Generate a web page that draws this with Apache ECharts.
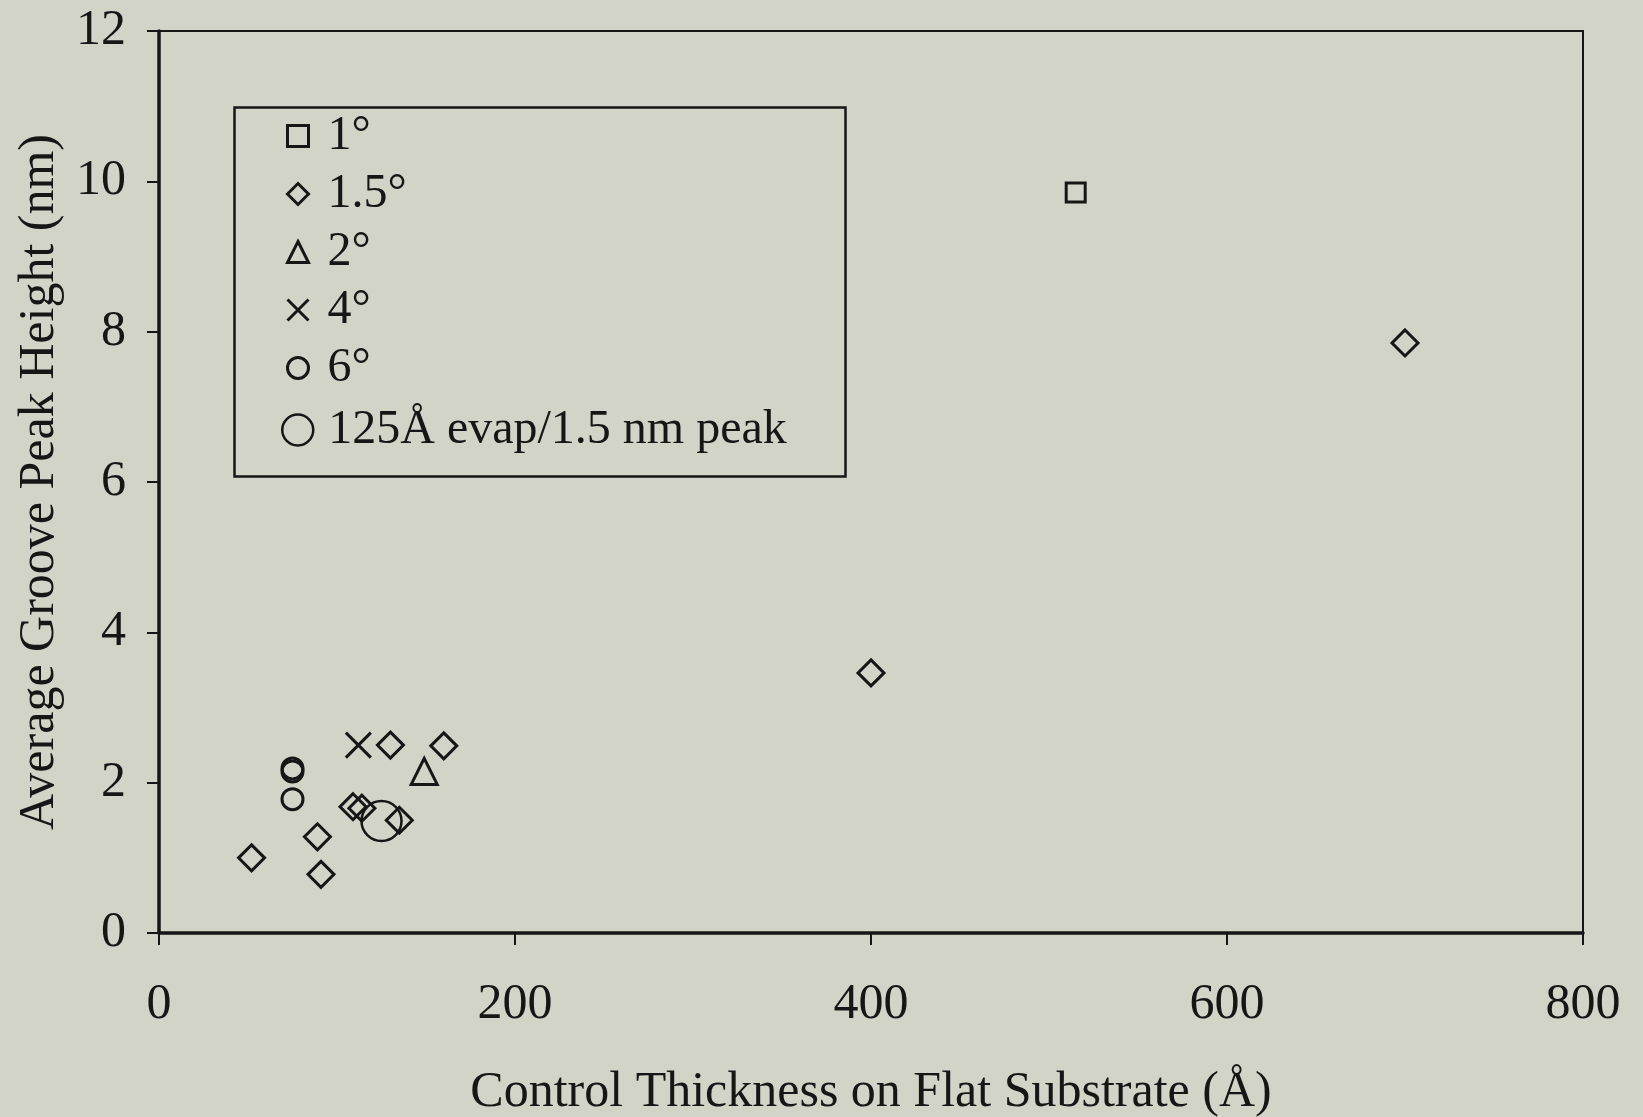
<!DOCTYPE html>
<html><head><meta charset="utf-8">
<script src="https://cdn.jsdelivr.net/npm/echarts@6/dist/echarts.min.js"></script>
<style>html,body{margin:0;padding:0;background:#d2d4c7;} #chart{width:1643px;height:1117px;}</style>
</head><body><div id="chart"></div>
<script>
// ---- data ----
const seriesNames = ['1°', '1.5°', '2°', '4°', '6°', '125Å evap/1.5 nm peak'];
const deg1 = [[515, 9.85]];
const deg15 = [[700, 7.85], [400, 3.46], [160, 2.49], [130, 2.5], [109, 1.68], [114, 1.66], [135, 1.5], [89, 1.28], [52, 1.0], [91, 0.78]];
const deg2 = [[149, 2.15]];
const deg4 = [[112, 2.5]];
const deg6 = [[75, 2.19], [75, 2.15], [75, 1.78]];
const evap125 = [[125, 1.49]];
const xAxisTitle = 'Control Thickness on Flat Substrate (Å)';
const yAxisTitle = 'Average Groove Peak Height (nm)';
const xMin = 0, xMax = 800, xStep = 200;
const yMin = 0, yMax = 12, yStep = 2;

// ---- chart ----
const FONT = '"Liberation Serif", "Times New Roman", serif';
const INK = '#161616';
const chart = echarts.init(document.getElementById('chart'), null, {renderer: 'canvas'});
const markStyle = {color: 'transparent', borderColor: INK, borderWidth: 3, opacity: 1};
const xPath = 'path://M0,0L10,10M0,10L10,0';

chart.setOption({
  backgroundColor: '#d2d4c7',
  animation: false,
  grid: {left: 159, right: 60, top: 31, bottom: 184, show: true, borderColor: INK, borderWidth: 2, outerBoundsMode: 'none'},
  xAxis: {
    type: 'value', min: xMin, max: xMax, interval: xStep,
    name: xAxisTitle, nameLocation: 'middle', nameGap: 135, nameMoveOverlap: false,
    nameTextStyle: {fontFamily: FONT, fontSize: 50, color: INK},
    axisLine: {show: true, onZero: false, lineStyle: {color: INK, width: 3.5}},
    axisTick: {show: true, inside: false, length: 12, lineStyle: {color: INK, width: 2}},
    axisLabel: {margin: 47, fontFamily: FONT, fontSize: 50, color: INK},
    splitLine: {show: false}
  },
  yAxis: {
    type: 'value', min: yMin, max: yMax, interval: yStep,
    name: yAxisTitle, nameLocation: 'middle', nameGap: 94, nameMoveOverlap: false,
    nameTextStyle: {fontFamily: FONT, fontSize: 50, color: INK},
    axisLine: {show: true, onZero: false, lineStyle: {color: INK, width: 3.5}},
    axisTick: {show: true, inside: false, length: 12, lineStyle: {color: INK, width: 2}},
    axisLabel: {margin: 33, fontFamily: FONT, fontSize: 50, color: INK},
    splitLine: {show: false}
  },
  legend: [
    {
      orient: 'vertical', left: 286, top: 111, padding: 0, itemGap: 8,
      itemWidth: 21, itemHeight: 21, selectedMode: false,
      itemStyle: {color: 'transparent', borderColor: INK, borderWidth: 3, opacity: 1},
      textStyle: {fontFamily: FONT, fontSize: 48, lineHeight: 50, color: INK, padding: [0, 0, 0, 14]},
      data: seriesNames.slice(0, 5)
    },
    {
      orient: 'vertical', left: 281, top: 405, padding: 0,
      itemWidth: 31, itemHeight: 31, selectedMode: false,
      itemStyle: {color: 'transparent', borderColor: INK, borderWidth: 2.5, opacity: 1},
      textStyle: {fontFamily: FONT, fontSize: 48, lineHeight: 50, color: INK, padding: [0, 0, 0, 10]},
      data: seriesNames.slice(5)
    }
  ],
  graphic: [{
    type: 'rect', left: 232, top: 105, z: 100, silent: true,
    shape: {width: 611, height: 369},
    style: {fill: 'none', stroke: INK, lineWidth: 2.5}
  }],
  series: [
    {name: seriesNames[0], type: 'scatter', symbol: 'rect', symbolSize: 19, itemStyle: markStyle, data: deg1},
    {name: seriesNames[1], type: 'scatter', symbol: 'diamond', symbolSize: 26, itemStyle: markStyle, data: deg15},
    {name: seriesNames[2], type: 'scatter', symbol: 'triangle', symbolSize: 26, itemStyle: markStyle, data: deg2},
    {name: seriesNames[3], type: 'scatter', symbol: xPath, symbolSize: 25, itemStyle: markStyle, data: deg4},
    {name: seriesNames[4], type: 'scatter', symbol: 'circle', symbolSize: 21, itemStyle: markStyle, data: deg6},
    {name: seriesNames[5], type: 'scatter', symbol: 'circle', symbolSize: 40, itemStyle: {color: 'transparent', borderColor: INK, borderWidth: 2.5, opacity: 1}, data: evap125}
  ]
});
</script>
</body></html>
